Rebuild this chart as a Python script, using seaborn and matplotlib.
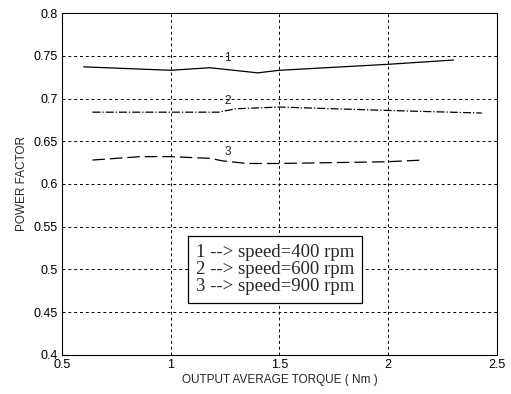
import matplotlib
matplotlib.use("Agg")
import matplotlib.pyplot as plt
import seaborn as sns
import pandas as pd

sns.set_theme(style="white")
plt.rcParams['font.family'] = ['Liberation Sans', 'DejaVu Sans']

x1 = [0.60, 1.00, 1.18, 1.40, 1.50, 2.00, 2.30]
y1 = [0.737, 0.733, 0.736, 0.730, 0.733, 0.740, 0.745]
x2 = [0.64, 1.00, 1.22, 1.30, 1.50, 2.00, 2.43]
y2 = [0.684, 0.684, 0.684, 0.688, 0.690, 0.686, 0.683]
x3 = [0.64, 0.86, 1.00, 1.18, 1.24, 1.35, 1.50, 1.99, 2.16]
y3 = [0.628, 0.632, 0.632, 0.630, 0.627, 0.624, 0.624, 0.626, 0.628]
curve_labels = ["1", "2", "3"]
label_pos = [(1.26, 0.747), (1.26, 0.697), (1.26, 0.637)]
legend_text = "1 --> speed=400 rpm\n2 --> speed=600 rpm\n3 --> speed=900 rpm"

fig = plt.figure(figsize=(5.11, 3.94), dpi=100)
ax = fig.add_axes([0.1213, 0.099, 0.8513, 0.868])

styles = ["-", "-.", (0, (10, 4))]
for xs, ys, ls in zip([x1, x2, x3], [y1, y2, y3], styles):
    df = pd.DataFrame({"x": xs, "y": ys})
    sns.lineplot(data=df, x="x", y="y", ax=ax, color="black", linewidth=0.9,
                 linestyle=ls, estimator=None, sort=False)

for lab, (px, py) in zip(curve_labels, label_pos):
    ax.text(px, py, lab, fontsize=8.5, ha="center", va="center", color="#222222")

ax.set_xlim(0.5, 2.5)
ax.set_ylim(0.4, 0.8)
ax.set_xticks([0.5, 1, 1.5, 2, 2.5])
ax.set_xticklabels(["0.5", "1", "1.5", "2", "2.5"])
ax.set_yticks([0.4, 0.45, 0.5, 0.55, 0.6, 0.65, 0.7, 0.75, 0.8])
ax.set_yticklabels(["0.4", "0.45", "0.5", "0.55", "0.6", "0.65", "0.7", "0.75", "0.8"])
ax.grid(True, color="black", linestyle=(0, (3, 3)), linewidth=0.7)
ax.tick_params(direction="in", length=4, labelsize=9, colors="black", pad=3)
for s in ax.spines.values():
    s.set_color("black")
    s.set_linewidth(0.8)
ax.set_xlabel("OUTPUT AVERAGE TORQUE ( Nm )", fontsize=8.5, labelpad=2)
ax.set_ylabel("POWER FACTOR", fontsize=8.5, labelpad=4)

ax.text(1.48, 0.50, legend_text, fontsize=13.5, family=["Liberation Serif"],
        ha="center", va="center", linespacing=1.0,
        bbox=dict(boxstyle="square,pad=0.42", facecolor="white", edgecolor="black", linewidth=0.9))

fig.savefig("out.png", dpi=100)
